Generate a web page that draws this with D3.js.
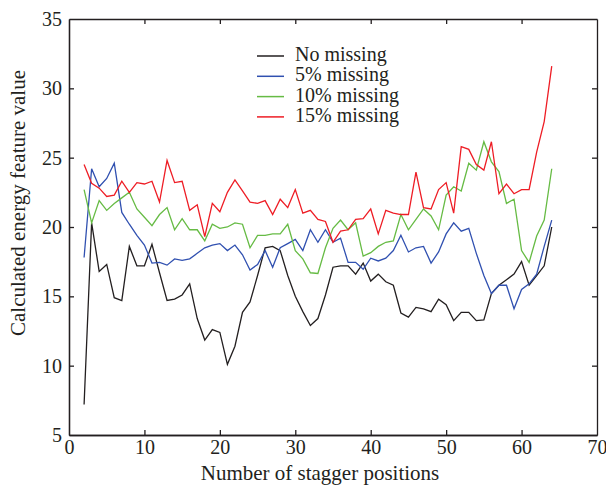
<!DOCTYPE html>
<html>
<head>
<meta charset="utf-8">
<script src="https://cdn.jsdelivr.net/npm/d3@7"></script>
<style>
  body { margin: 0; background: #fff; }
  svg text { font-family: "Liberation Serif", "DejaVu Serif", serif; fill: #231f20; }
</style>
</head>
<body>
<script>
//Data
    const positions = d3.range(2, 65);
    const seriesNames = ["No missing", "5% missing", "10% missing", "15% missing"];
    const seriesColors = ["#231f20", "#3050b0", "#66bb44", "#ee1d25"];

    const noMissing = [7.2, 20.3, 16.8, 17.3, 14.9, 14.7, 18.6, 17.2, 17.2, 18.75,
        16.7, 14.7, 14.8, 15.1, 15.9, 13.4, 11.85, 12.6, 12.4, 10.1,
        11.4, 13.85, 14.6, 16.5, 18.5, 18.6, 18.3, 16.5, 15.0, 13.9,
        12.9, 13.4, 15.1, 17.1, 17.2, 17.2, 16.6, 17.4, 16.1, 16.6,
        16.05, 15.8, 13.8, 13.5, 14.2, 14.1, 13.9, 14.8, 14.4, 13.25,
        13.85, 13.85, 13.25, 13.3, 15.2, 15.8, 16.2, 16.6, 17.5, 15.8,
        16.5, 17.2, 20.0];

    const missing5 = [17.8, 24.2, 22.9, 23.5, 24.6, 21.05, 20.2, 19.4, 18.7, 17.4,
        17.45, 17.25, 17.7, 17.6, 17.7, 18.1, 18.5, 18.7, 18.8, 18.3,
        18.7, 18.0, 16.9, 17.3, 18.3, 17.1, 18.5, 18.8, 19.1, 18.3,
        19.8, 18.9, 19.8, 18.9, 19.2, 17.45, 17.45, 16.95, 17.75, 17.55,
        17.75, 18.3, 19.4, 18.2, 18.5, 18.6, 17.4, 18.2, 19.5, 20.3,
        19.7, 19.9, 18.1, 16.5, 15.2, 15.8, 15.8, 14.1, 15.5, 15.9,
        16.6, 18.6, 20.5];

    const missing10 = [22.7, 20.3, 21.9, 21.2, 21.7, 22.1, 22.5, 21.3, 20.7, 20.1,
        20.9, 21.4, 19.8, 20.6, 19.8, 19.8, 19.0, 20.2, 19.9, 20.0,
        20.3, 20.2, 18.5, 19.4, 19.4, 19.5, 19.5, 20.2, 18.3, 17.7,
        16.7, 16.65, 18.5, 19.9, 20.5, 19.8, 20.3, 17.9, 18.15, 18.6,
        18.9, 19.0, 20.9, 19.8, 20.55, 21.3, 20.8, 19.8, 22.3, 22.9,
        22.6, 24.6, 24.1, 26.15, 24.7, 24.0, 21.7, 22.0, 18.3, 17.45,
        19.35, 20.5, 24.2];

    const missing15 = [24.5, 23.15, 22.8, 22.2, 22.3, 23.3, 22.5, 23.2, 23.1, 23.3,
        21.8, 24.8, 23.2, 23.3, 21.2, 21.6, 19.3, 21.7, 21.1, 22.5,
        23.4, 22.6, 21.8, 21.7, 21.9, 20.9, 22.0, 21.4, 22.7, 21.0,
        21.2, 20.55, 20.4, 18.9, 19.7, 19.8, 20.55, 20.6, 21.3, 19.5,
        21.2, 21.0, 20.9, 20.9, 23.95, 21.4, 21.3, 22.7, 23.2, 21.0,
        25.8, 25.6, 24.5, 24.1, 26.15, 22.4, 23.1, 22.4, 22.7, 22.7,
        25.4, 27.6, 31.6];

    const xTicks = [0, 10, 20, 30, 40, 50, 60, 70];
    const yTicks = [5, 10, 15, 20, 25, 30, 35];

    const seriesValues = [noMissing, missing5, missing10, missing15];

//Set up dimensions
    const width = 606;
    const height = 487;
    const plotLeft = 69, plotRight = 597, plotTop = 19, plotBottom = 435;

//Scales
    const xScale = d3.scaleLinear().domain([0, 70]).range([plotLeft, plotRight]);
    const yScale = d3.scaleLinear().domain([5, 35]).range([plotBottom, plotTop]);

//Make the SVG
    const svg = d3.select("body")
        .append("svg")
        .attr("width", width)
        .attr("height", height);

//Axes (ticks point inward on all sides)
    const innerX = xTicks.slice(1, -1);
    const innerY = yTicks.slice(1, -1);

    const bottomAxis = svg.append("g")
        .attr("transform", "translate(0," + plotBottom + ")")
        .call(d3.axisBottom(xScale).tickValues(xTicks).tickSizeInner(0).tickSizeOuter(0));
    bottomAxis.selectAll("text").attr("font-size", 20).attr("y", 19).attr("dy", 0);

    const leftAxis = svg.append("g")
        .attr("transform", "translate(" + plotLeft + ",0)")
        .call(d3.axisLeft(yScale).tickValues(yTicks).tickSizeInner(0).tickSizeOuter(0).tickPadding(7));
    leftAxis.selectAll("text").attr("font-size", 20);

    svg.append("g")
        .attr("transform", "translate(0," + plotBottom + ")")
        .call(d3.axisBottom(xScale).tickValues(innerX).tickSizeInner(-5).tickSizeOuter(0).tickFormat(""));
    svg.append("g")
        .attr("transform", "translate(0," + plotTop + ")")
        .call(d3.axisTop(xScale).tickValues(innerX).tickSizeInner(-5).tickSizeOuter(0).tickFormat(""));
    svg.append("g")
        .attr("transform", "translate(" + plotLeft + ",0)")
        .call(d3.axisLeft(yScale).tickValues(innerY).tickSizeInner(-5).tickSizeOuter(0).tickFormat(""));
    svg.append("g")
        .attr("transform", "translate(" + plotRight + ",0)")
        .call(d3.axisRight(yScale).tickValues(innerY).tickSizeInner(-5).tickSizeOuter(0).tickFormat(""));

    svg.selectAll(".domain, .tick line").attr("stroke", "#231f20").attr("stroke-width", 1.3);

//Lines
    const line = d3.line()
        .x((d, i) => xScale(positions[i]))
        .y(d => yScale(d));

    seriesValues.forEach((vals, k) => {
        svg.append("path")
            .datum(vals)
            .attr("fill", "none")
            .attr("stroke", seriesColors[k])
            .attr("stroke-width", 1.3)
            .attr("stroke-linejoin", "miter")
            .attr("d", line);
    });

//Legend
    const legend = svg.append("g").attr("transform", "translate(257,56)");
    seriesNames.forEach((name, k) => {
        const row = legend.append("g").attr("transform", "translate(0," + (k * 20.3) + ")");
        row.append("line")
            .attr("x1", 0).attr("x2", 27)
            .attr("y1", 0).attr("y2", 0)
            .attr("stroke", seriesColors[k])
            .attr("stroke-width", 1.5);
        row.append("text")
            .attr("x", 38).attr("y", 5)
            .attr("font-size", 20)
            .text(name);
    });

//Axis titles
    svg.append("text")
        .attr("x", 320)
        .attr("y", 480)
        .attr("text-anchor", "middle")
        .attr("font-size", 21)
        .text("Number of stagger positions");

    svg.append("text")
        .attr("transform", "translate(25,203) rotate(-90)")
        .attr("text-anchor", "middle")
        .attr("font-size", 21)
        .text("Calculated energy feature value");
</script>
</body>
</html>
